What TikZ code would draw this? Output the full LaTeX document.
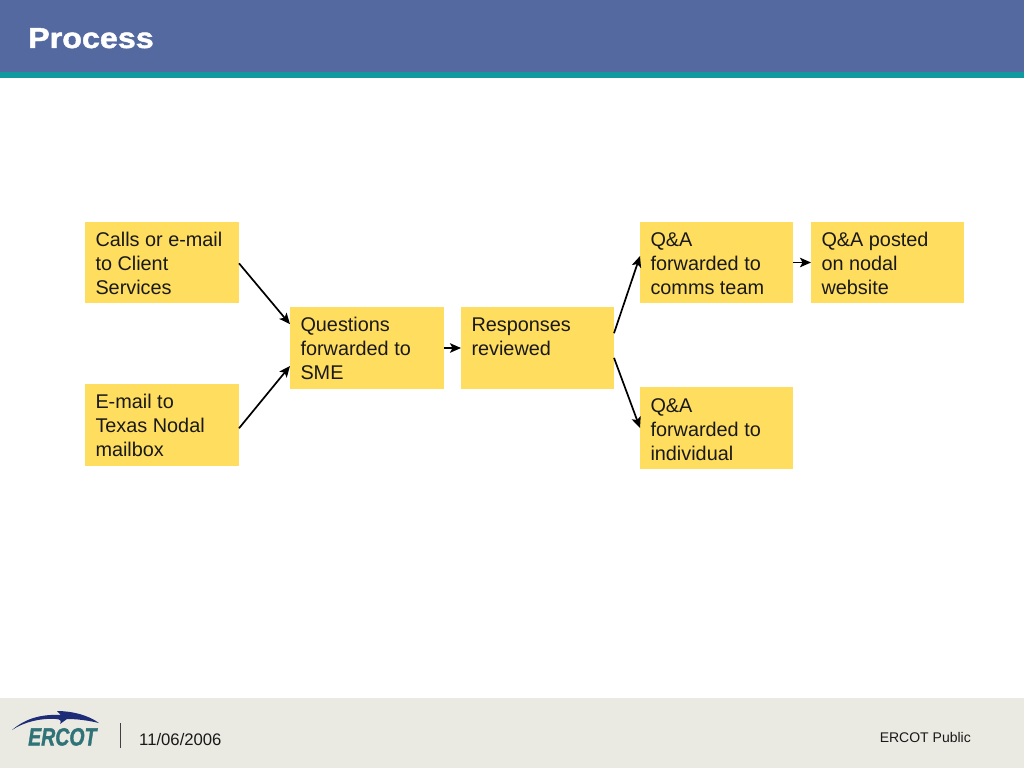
\documentclass[tikz,border=0pt]{standalone}
\usepackage{graphicx}
\usepackage{fontspec}
\setmainfont{Liberation Sans}
\newfontfamily\titlefont[BoldFeatures={FakeBold=1.6,FakeStretch=1.12}]{Liberation Sans}
\newfontfamily\logofont[BoldItalicFeatures={FakeBold=1.5}]{Liberation Sans}
\usetikzlibrary{calc,arrows.meta}
\definecolor{headblue}{HTML}{53699F}
\definecolor{headteal}{HTML}{0E9A9E}
\definecolor{footgrey}{HTML}{EBEAE2}
\definecolor{boxyellow}{HTML}{FFDD5F}
\definecolor{logoblue}{HTML}{1E2C78}
\definecolor{logoteal}{HTML}{2F7378}
\newcommand{\cellbody}[4]{\parbox[c][#2pt][t]{#1pt}{\raggedright\rule{0pt}{#3pt}#4}}
\tikzset{
  x=1pt,y=-1pt,
  flowbox/.style={fill=boxyellow,anchor=north west,inner xsep=10.5pt,inner ysep=0pt,outer sep=0pt,
    font=\fontsize{19.85}{24}\selectfont,text=black!90},
  flow/.style={draw=black,line width=1.7pt,-{Stealth[length=11pt,width=9.5pt,inset=2.5pt]}}
}
\begin{document}
\begin{tikzpicture}
\useasboundingbox (0,0) rectangle (1024,768);
\fill[white] (0,0) rectangle (1024,768);
\fill[headblue] (0,0) rectangle (1024,72);
\fill[headteal] (0,72) rectangle (1024,78);
\fill[footgrey] (0,698) rectangle (1024,768);
\node[anchor=base west,inner sep=0pt,text=white,font=\titlefont\bfseries\fontsize{28.8}{30}\selectfont] (title) at (28,48) {Process};
% boxes
\node[flowbox] (calls) at (85,222) {\cellbody{133}{81}{24}{Calls or e-mail\\to Client\\Services}};
\node[flowbox] (email) at (85,384) {\cellbody{133}{82}{24}{E-mail to\\Texas Nodal\\mailbox}};
\node[flowbox] (quest) at (290,307) {\cellbody{133}{82}{24}{Questions\\forwarded to\\SME}};
\node[flowbox] (resp) at (461,307) {\cellbody{132}{82}{24}{Responses\\reviewed}};
\node[flowbox] (fwdcomms) at (640,222) {\cellbody{132}{81}{24}{Q\&A\\forwarded to\\comms team}};
\node[flowbox] (posted) at (811,222) {\cellbody{132}{81}{24}{Q\&A posted\\on nodal\\website}};
\node[flowbox] (fwdind) at (640,387) {\cellbody{132}{82}{25}{Q\&A\\forwarded to\\individual}};
% connectors
\draw[flow] ($(calls.north east)!0.51!(calls.south east)$) -- ($(quest.north west)!0.21!(quest.south west)$);
\draw[flow] ($(email.north east)!0.54!(email.south east)$) -- ($(quest.north west)!0.72!(quest.south west)$);
\draw[flow] (quest.east) -- (resp.west);
\draw[flow] ($(resp.north east)!0.32!(resp.south east)$) -- ($(fwdcomms.north west)!0.42!(fwdcomms.south west)$);
\draw[flow] ($(resp.north east)!0.62!(resp.south east)$) -- (fwdind.west);
\draw[flow] (fwdcomms.east) -- (posted.west);
% footer
\draw[draw=black!75,line width=1pt] (120,723) -- (120,748);
\node[anchor=base west,inner sep=0pt,font=\fontsize{16.7}{20}\selectfont,text=black!90] (date) at (139,745) {11/06/2006};
\node[anchor=base east,inner sep=0pt,font=\fontsize{14}{17}\selectfont,text=black!90] (pub) at (971,742) {ERCOT Public};
% logo
\fill[logoblue] (12,730) .. controls (26,718) and (42,714) .. (61,715) -- (57,711) .. controls (72,711) and (88,715) .. (99,723)
  .. controls (86,720) and (76,719) .. (67,719) -- (60,724) .. controls (62,721) and (60,719) .. (56,719) .. controls (40,718) and (24,722) .. (12,730) -- cycle;
\node[anchor=base west,inner sep=0pt,text=logoteal,font=\logofont\bfseries\itshape\fontsize{19.5}{24}\selectfont] (logo) at (28,745.5) {\scalebox{1}[1.28]{ERCOT}};
\end{tikzpicture}
\end{document}
